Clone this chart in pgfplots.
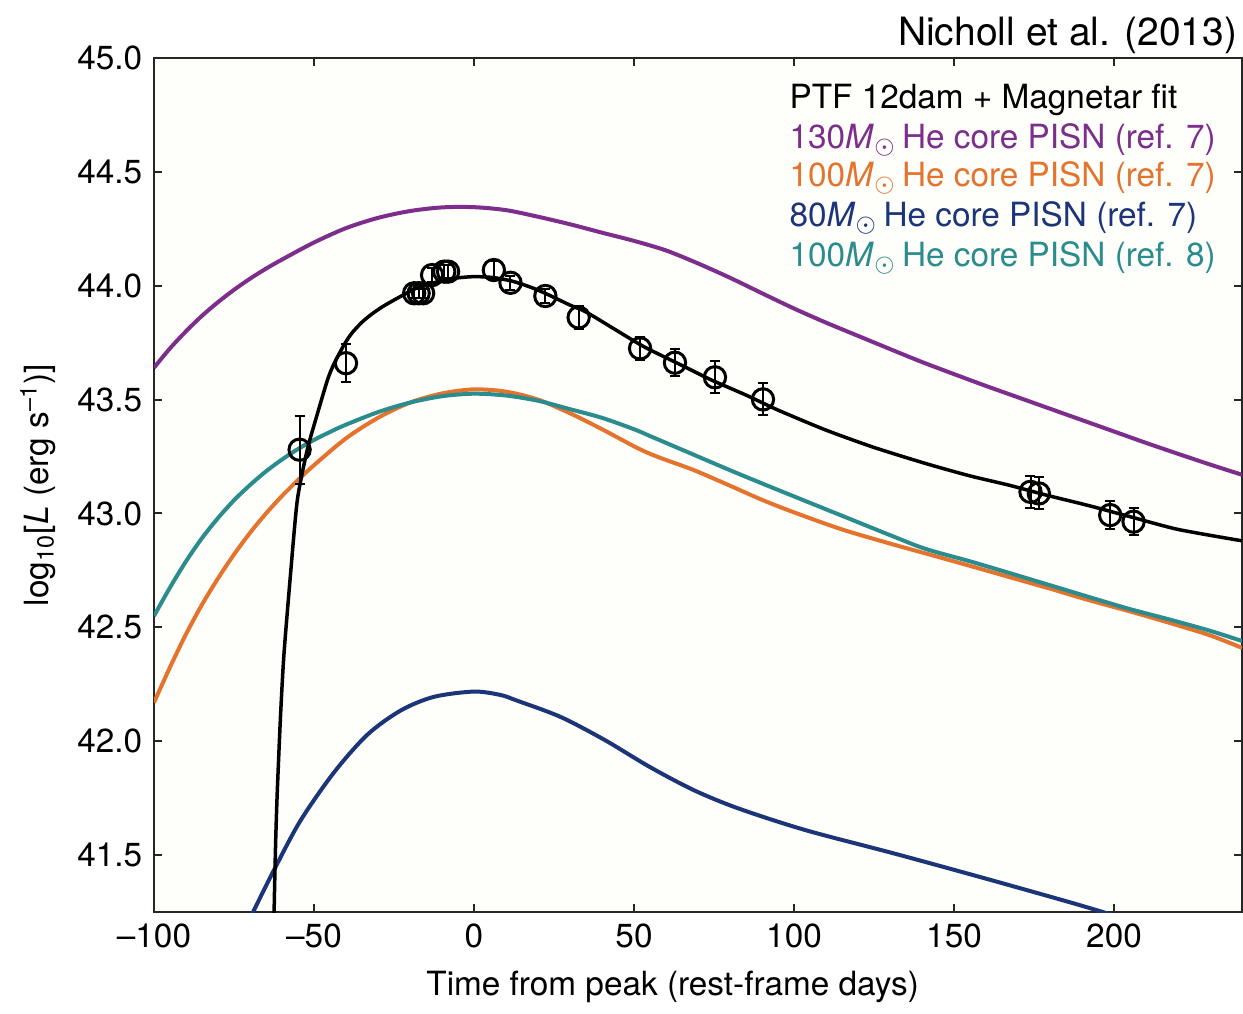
\documentclass[border=0pt]{standalone}
\usepackage{pgfplots}
\pgfplotsset{compat=1.18}
\usepackage{fontspec}
\setmainfont{TeX Gyre Heros}
\definecolor{cpurple}{RGB}{125,45,140}
\definecolor{corange}{RGB}{228,115,45}
\definecolor{cnavy}{RGB}{28,52,120}
\definecolor{cteal}{RGB}{42,140,140}
\definecolor{bgcream}{RGB}{254,254,251}
\begin{document}
\begin{tikzpicture}
\begin{axis}[
  width=326.4pt, height=256.2pt, scale only axis,
  xmin=-100, xmax=240, ymin=41.25, ymax=45.0,
  xtick={-100,-50,0,50,100,150,200},
  xticklabels={\textendash100,\textendash50,0,50,100,150,200},
  ytick={41.5,42,42.5,43,43.5,44,44.5,45},
  yticklabel style={/pgf/number format/.cd, fixed, fixed zerofill, precision=1},
  /pgf/number format/assume math mode=true,
  tick align=inside, major tick length=2.4pt,
  tick style={line width=0.6pt, black!85},
  axis line style={line width=0.6pt, black!85},
  axis background/.style={fill=bgcream},
  ticklabel style={font=\fontsize{10}{12}\selectfont},
  label style={font=\fontsize{10}{12}\selectfont},
  xlabel={Time from peak (rest-frame days)},
  ylabel={log\textsubscript{10}[\textit{L} (erg s\textsuperscript{\textendash1})]},
  xlabel style={at={([xshift=-7.6pt,yshift=-24.9pt]axis description cs:0.5,0)}, anchor=base},
  ylabel style={at={([xshift=-34.8pt]axis description cs:0,0.5)}, anchor=center},
]
% 130 Msun (ref 7)
\addplot[cpurple, line width=1.2pt, smooth] coordinates {
(-100,43.64) (-95,43.725) (-90,43.80) (-85,43.868) (-80,43.928) (-75,43.982)
(-70,44.031) (-65,44.075) (-60,44.115) (-50,44.19) (-40,44.253) (-30,44.298)
(-20,44.328) (-10,44.344) (0,44.345) (10,44.332) (20,44.303) (30,44.27)
(40,44.233) (50,44.197) (60,44.155) (70,44.098) (80,44.035) (90,43.967)
(100,43.90) (110,43.838) (120,43.78) (130,43.722) (140,43.665) (150,43.612)
(160,43.56) (170,43.51) (180,43.46) (190,43.41) (200,43.36) (210,43.31)
(220,43.262) (230,43.215) (240,43.17)};
% 100 Msun (ref 7)
\addplot[corange, line width=1.2pt, smooth] coordinates {
(-100,42.17) (-95,42.325) (-90,42.47) (-85,42.60) (-80,42.715) (-75,42.82)
(-70,42.915) (-65,43.0) (-60,43.077) (-55,43.147) (-50,43.212) (-40,43.33)
(-30,43.42) (-20,43.487) (-10,43.527) (0,43.545) (10,43.535) (20,43.50)
(30,43.44) (40,43.37) (50,43.295) (55,43.262) (60,43.235) (65,43.21)
(70,43.183) (80,43.122) (90,43.06) (100,43.005) (115,42.93) (130,42.868)
(141,42.825) (155,42.77) (167,42.722) (180,42.67) (192,42.62) (205,42.57)
(218,42.517) (230,42.465) (240,42.41)};
% 80 Msun (ref 7)
\addplot[cnavy, line width=1.2pt, smooth] coordinates {
(-71,41.19) (-68.75,41.258) (-62.3,41.44) (-54.2,41.652) (-43.75,41.863)
(-33.3,42.029) (-22.9,42.135) (-12.5,42.195) (0,42.218) (8.3,42.203)
(13.1,42.18) (27,42.107) (40.9,42.005) (54.8,41.888) (68.7,41.785)
(82.6,41.705) (103.5,41.61) (131.3,41.507) (159.1,41.40) (186.9,41.29)
(200,41.235)};
% 100 Msun (ref 8)
\addplot[cteal, line width=1.2pt, smooth] coordinates {
(-100,42.55) (-95,42.675) (-90,42.79) (-85,42.892) (-80,42.98) (-75,43.058)
(-70,43.125) (-65,43.185) (-60,43.237) (-55,43.283) (-50,43.323) (-45,43.358)
(-40,43.39) (-30,43.445) (-20,43.487) (-10,43.515) (0,43.526) (10,43.518)
(20,43.495) (30,43.458) (40,43.42) (50,43.37) (55,43.34) (65,43.28) (80,43.19)
(90,43.132) (100,43.075) (115,42.99) (130,42.905) (141,42.845) (155,42.79)
(167,42.74) (180,42.685) (192,42.634) (205,42.58) (218,42.532) (230,42.485)
(240,42.44)};
% Magnetar fit
\addplot[black, line width=1.05pt, smooth, tension=0.4] coordinates {
(-62.8,41.0) (-62.4,41.3) (-62.0,41.55) (-61.5,41.77) (-60.5,42.1) (-59.4,42.38)
(-57.3,42.74) (-55.2,43.06) (-52.1,43.28) (-49,43.435) (-45.8,43.586)
(-44,43.65) (-42,43.705) (-40,43.755) (-38,43.795) (-35,43.84) (-32,43.875)
(-28.6,43.908) (-24,43.945) (-18.2,43.988) (-12,44.015) (-6,44.033) (0,44.04)
(6,44.036) (12,44.02) (18,43.992) (23,43.962) (30,43.915) (35,43.885)
(45,43.80) (53.4,43.73) (65,43.65) (74.2,43.586) (85,43.52) (95,43.454)
(110,43.366) (125,43.29) (141,43.22) (155,43.165) (167,43.125) (179,43.08)
(192,43.035) (205,42.986) (220,42.93) (240,42.88)};
% PTF 12dam data
\addplot[black, line width=0.9pt, only marks, mark=o, mark size=3.2pt,
  error bars/.cd, y dir=both, y explicit,
  error bar style={line width=0.6pt, black},
  error mark options={rotate=90, mark size=1.5pt, line width=0.6pt, black}]
  table[x=x, y=y, y error=e] {
x y e
-54.5 43.28 0.15
-40 43.66 0.084
-18.7 43.967 0.02
-17.3 43.967 0.02
-15.9 43.967 0.02
-13.1 44.047 0.03
-9.3 44.062 0.03
-8.1 44.062 0.03
6.2 44.069 0.04
11.4 44.013 0.03
22.3 43.955 0.03
32.7 43.861 0.05
51.9 43.725 0.05
62.8 43.662 0.06
75.3 43.598 0.07
90.3 43.501 0.07
173.9 43.095 0.07
176.5 43.088 0.07
198.8 42.993 0.06
206.1 42.964 0.06
};
% legend text
\begin{scope}[every node/.style={anchor=base west, inner sep=0pt, font=\fontsize{10}{12}\selectfont}]
\node[black] at (axis cs:98.4,44.779) {PTF 12dam + Magnetar fit};
\node[cpurple] at (axis cs:98.4,44.603) {130\textit{M}$_{\odot}$\,He core PISN (ref. 7)};
\node[corange] at (axis cs:98.4,44.435) {100\textit{M}$_{\odot}$\,He core PISN (ref. 7)};
\node[cnavy] at (axis cs:98.4,44.259) {80\textit{M}$_{\odot}$\,He core PISN (ref. 7)};
\node[cteal] at (axis cs:98.4,44.083) {100\textit{M}$_{\odot}$\,He core PISN (ref. 8)};
\end{scope}
\end{axis}
\node[anchor=base east, inner sep=0pt, font=\fontsize{11.7}{14}\selectfont] at ([xshift=-1.2pt,yshift=3.9pt]current axis.north east) {Nicholl et al. (2013)};
\path ([xshift=-46.2pt,yshift=-27.6pt]current axis.south west);
\path ([xshift=0.3pt,yshift=17.4pt]current axis.north east);
\end{tikzpicture}
\end{document}
